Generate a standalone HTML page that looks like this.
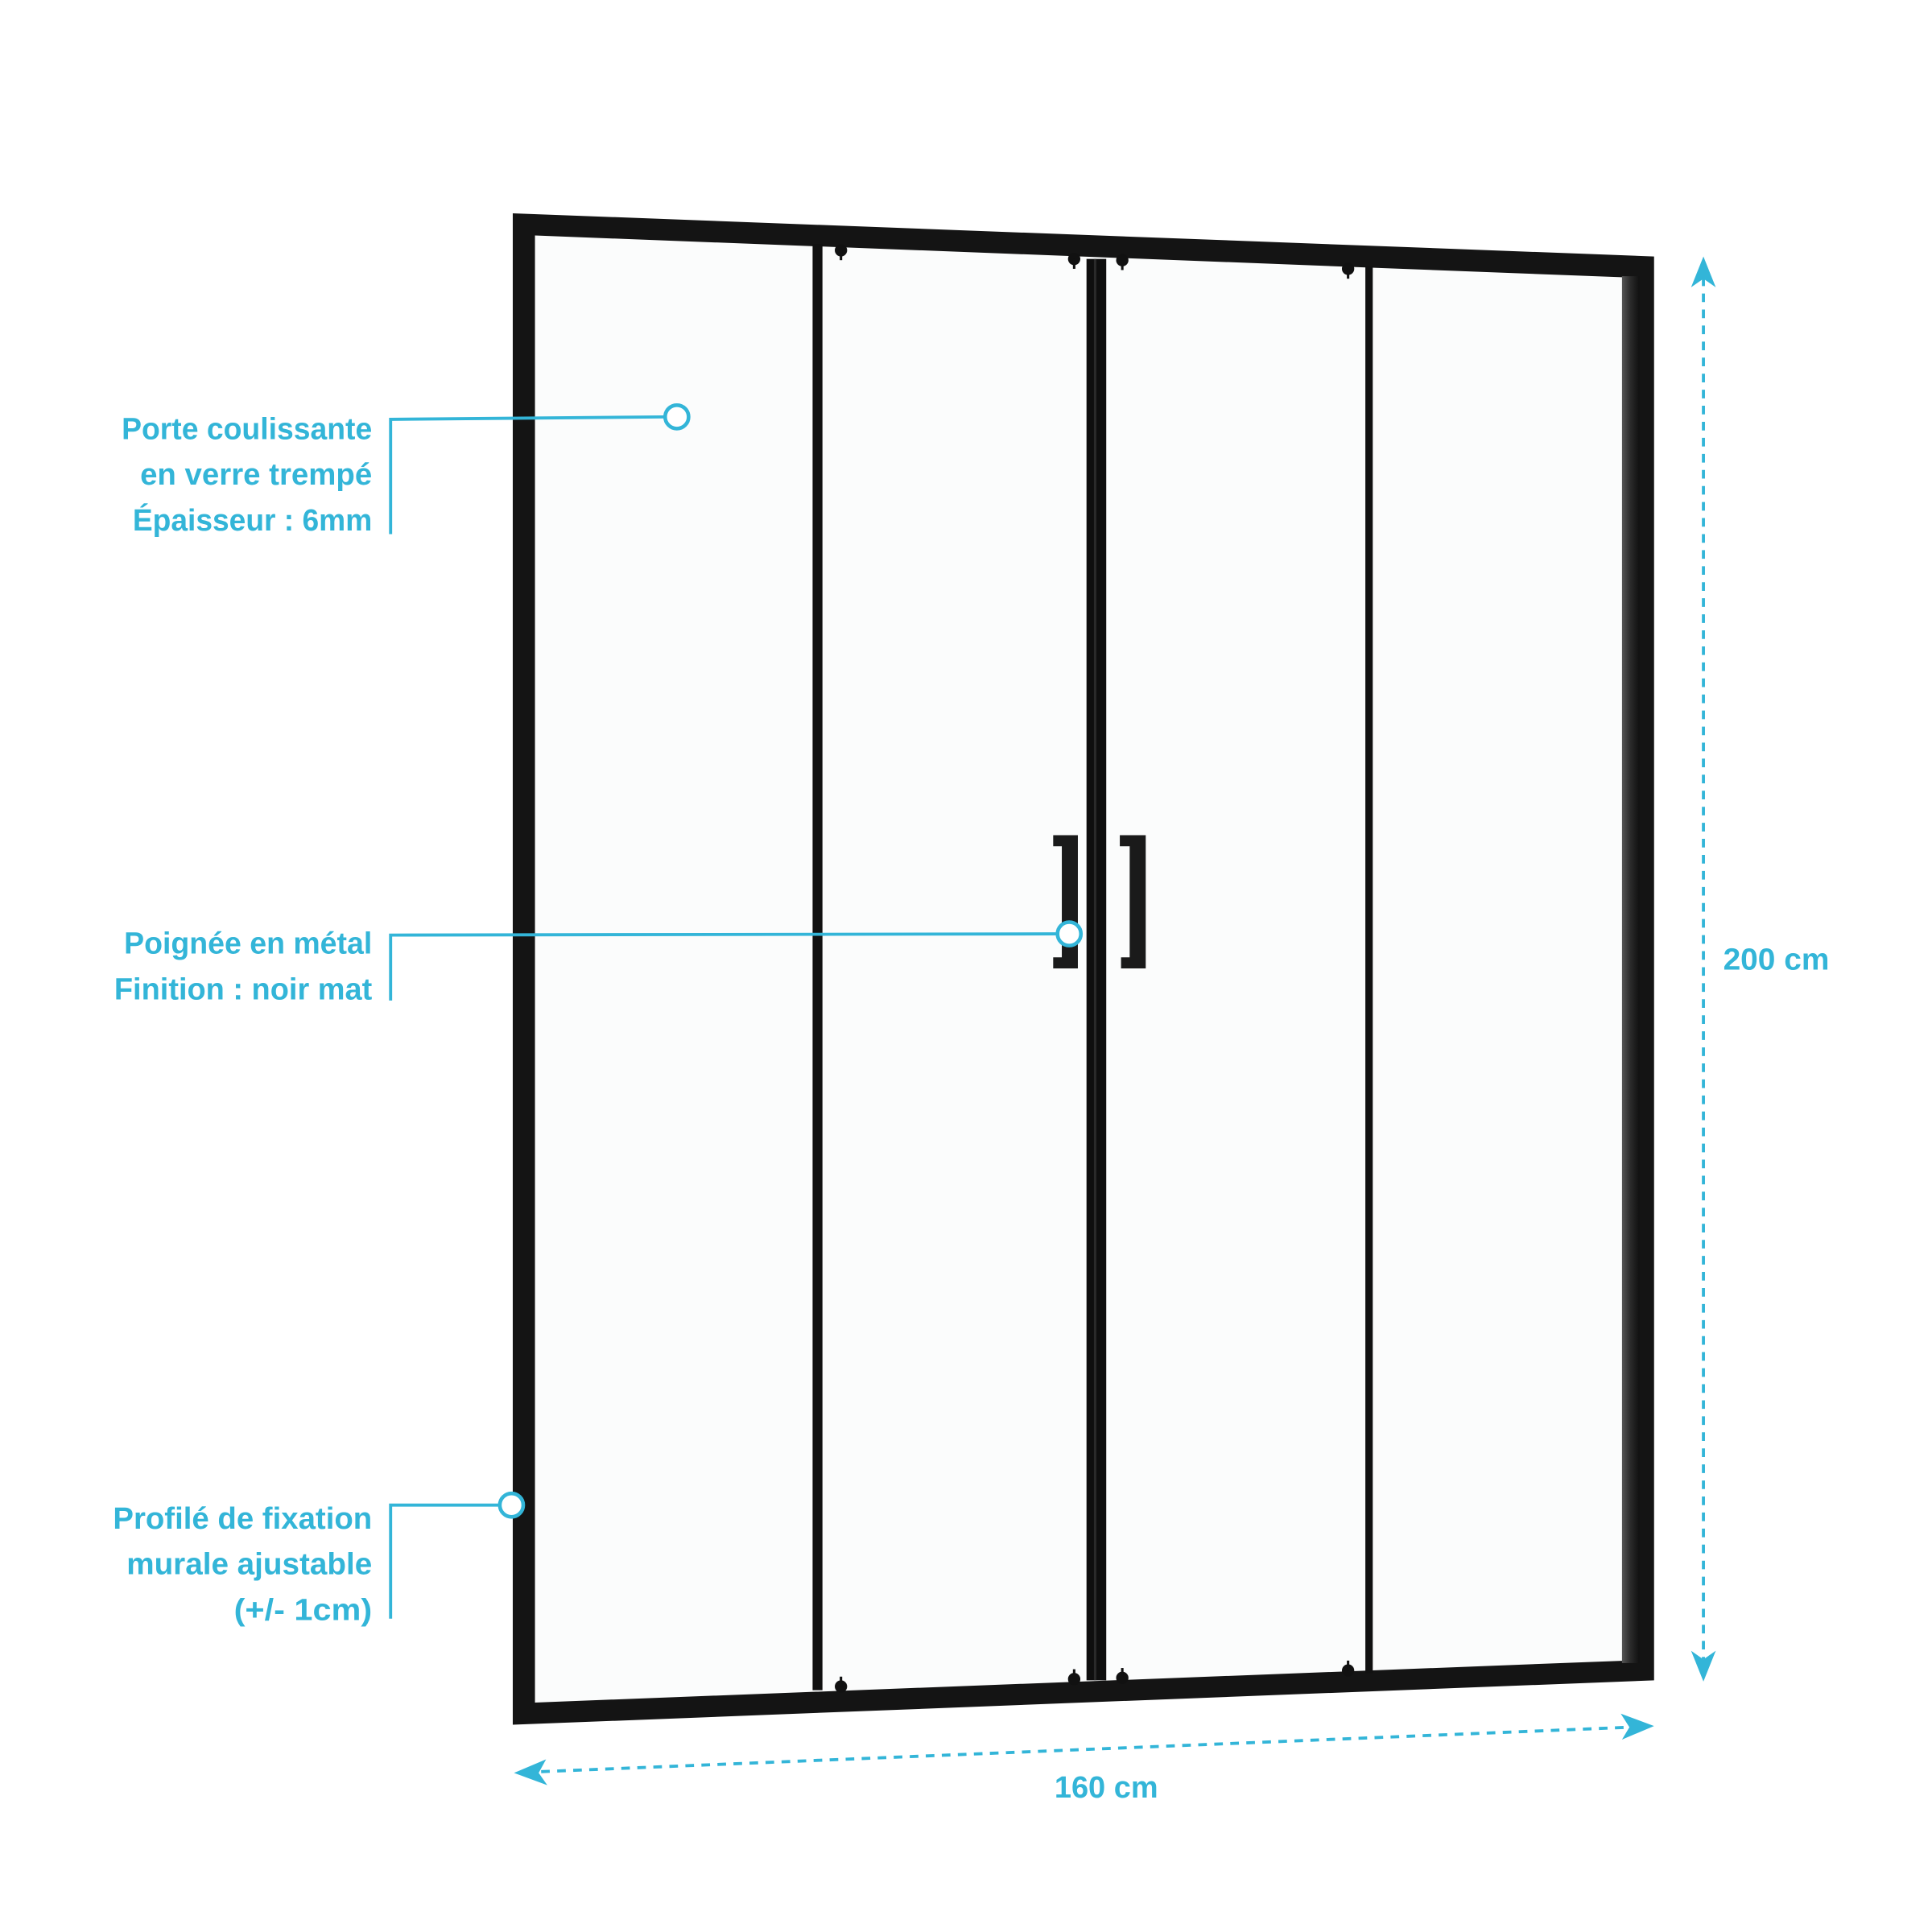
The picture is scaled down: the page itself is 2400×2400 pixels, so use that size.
<!DOCTYPE html>
<html><head><meta charset="utf-8"><style>html,body{margin:0;padding:0;background:#fff}svg{display:block}</style></head>
<body>
<svg width="2400" height="2400" viewBox="0 0 1558 1558" xmlns="http://www.w3.org/2000/svg">
<defs>
<linearGradient id="rp" x1="0" x2="1" y1="0" y2="0"><stop offset="0" stop-color="#555"/><stop offset="0.5" stop-color="#2a2a2a"/><stop offset="1" stop-color="#111"/></linearGradient>
</defs>
<rect width="1558" height="1558" fill="#fff"/>
<g transform="translate(413.5,172) scale(0.995) translate(-417,-173)">
<polygon points="435,190 1320,224 1320,1347 435,1380" fill="#fbfcfc"/>
<path fill-rule="evenodd" fill="#141414" d="M417,173 L1342,208 L1342,1362 L417,1398 Z M435,191 L1320,225 L1320,1346 L435,1380 Z"/>
<rect x="1316" y="224" width="14" height="1124" fill="url(#rp)"/>
<rect x="660" y="198" width="8" height="1172" fill="#111"/>
<rect x="882" y="210" width="16" height="1152" fill="#0e0e0e"/>
<rect x="888" y="210" width="2" height="1152" fill="#2a2a2a"/>
<rect x="1108" y="216" width="6" height="1140" fill="#111"/>
<g fill="#111">
<circle cx="683" cy="203" r="5"/><rect x="682" y="203" width="2" height="8"/>
<circle cx="872" cy="210" r="5"/><rect x="871" y="210" width="2" height="8"/>
<circle cx="911" cy="211" r="5"/><rect x="910" y="211" width="2" height="8"/>
<circle cx="1094" cy="218" r="5"/><rect x="1093" y="218" width="2" height="8"/>
<circle cx="683" cy="1367" r="5"/><rect x="682" y="1359" width="2" height="8"/>
<circle cx="872" cy="1361" r="5"/><rect x="871" y="1353" width="2" height="8"/>
<circle cx="911" cy="1360" r="5"/><rect x="910" y="1352" width="2" height="8"/>
<circle cx="1094" cy="1354" r="5"/><rect x="1093" y="1346" width="2" height="8"/>
</g>
<path fill="#1a1a1a" d="M855,677 H875 V785 H855 V776 H862 V686 H855 Z"/>
<path fill="#1a1a1a" d="M909,677 H930 V785 H910 V776 H917 V686 H909 Z"/>
<g stroke="#33b5d8" stroke-width="2.5" fill="none">
<polyline points="318,433 318,340 540,338"/>
<polyline points="318,811 318,758 858,757"/>
<polyline points="318,1312 318,1220 406,1220"/>
</g>
<g stroke="#33b5d8" stroke-width="3" fill="#fff">
<circle cx="550" cy="338" r="9.5"/>
<circle cx="868" cy="757" r="9.5"/>
<circle cx="416" cy="1220" r="9.5"/>
</g>
<g stroke="#33b5d8" stroke-width="2.5" stroke-dasharray="7,6" fill="none">
<line x1="1382" y1="225" x2="1382" y2="1345"/>
<line x1="440" y1="1436" x2="1322" y2="1400"/>
</g>
<g fill="#33b5d8">
<polygon points="1382,208 1372,233 1382,226 1392,233"/>
<polygon points="1382,1363 1372,1338 1382,1345 1392,1338"/>
<polygon points="418,1437 444,1426 438,1437 445,1447"/>
<polygon points="1342,1399 1315,1389 1322,1400 1316,1410"/>
</g>
<g fill="#33b5d8" font-family="Liberation Sans, DejaVu Sans, sans-serif" font-size="25" font-weight="bold" text-anchor="end">
<text x="303" y="356" textLength="203" lengthAdjust="spacingAndGlyphs">Porte coulissante</text>
<text x="303" y="393" textLength="188" lengthAdjust="spacingAndGlyphs">en verre trempé</text>
<text x="303" y="430" textLength="194" lengthAdjust="spacingAndGlyphs">Épaisseur : 6mm</text>
<text x="303" y="773" textLength="201" lengthAdjust="spacingAndGlyphs">Poignée en métal</text>
<text x="303" y="810" textLength="209" lengthAdjust="spacingAndGlyphs">Finition : noir mat</text>
<text x="303" y="1239" textLength="210" lengthAdjust="spacingAndGlyphs">Profilé de fixation</text>
<text x="303" y="1276" textLength="199" lengthAdjust="spacingAndGlyphs">murale ajustable</text>
<text x="303" y="1313" textLength="112" lengthAdjust="spacingAndGlyphs">(+/- 1cm)</text>
<text x="1484" y="786" textLength="86" lengthAdjust="spacingAndGlyphs">200 cm</text>
<text x="940" y="1457" textLength="84" lengthAdjust="spacingAndGlyphs">160 cm</text>
</g>
</g>
</svg>
</body></html>
